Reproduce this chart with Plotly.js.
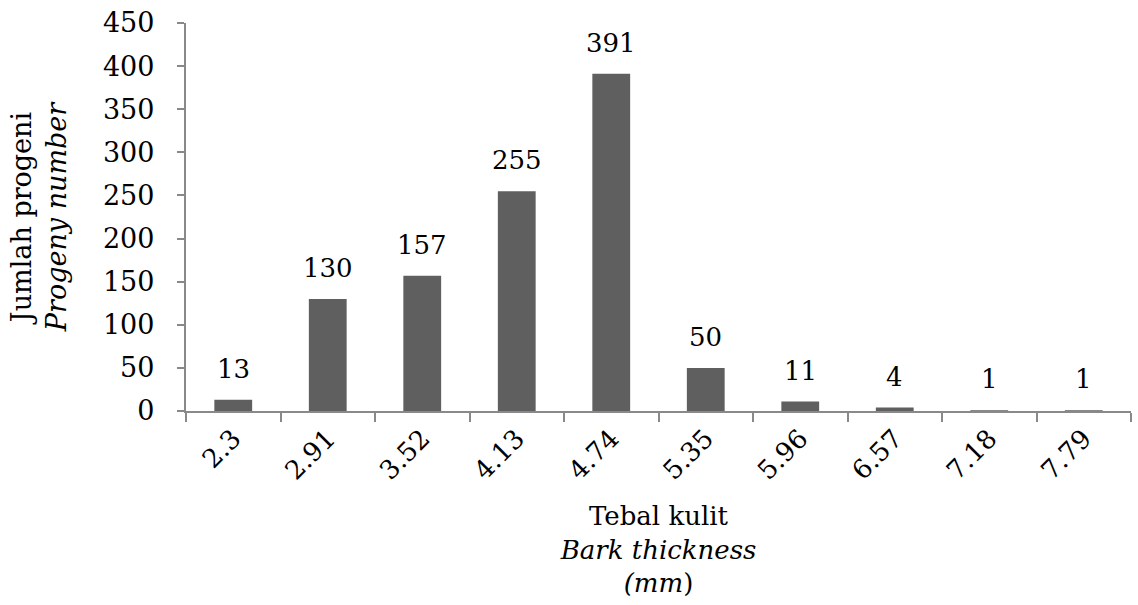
<!DOCTYPE html>
<html>
<head>
<meta charset="utf-8">
<script src="https://cdn.plot.ly/plotly-3.0.1.min.js"></script>
<style>html,body{margin:0;padding:0;background:#fff;}#chart{width:1138px;height:605px;}</style>
</head>
<body>
<div id="chart"></div>
<script>
const categories = ["2.3", "2.91", "3.52", "4.13", "4.74", "5.35", "5.96", "6.57", "7.18", "7.79"];
const counts = [13, 130, 157, 255, 391, 50, 11, 4, 1, 1];
const yTicks = [0, 50, 100, 150, 200, 250, 300, 350, 400, 450];

const fontFam = "DejaVu Serif, Liberation Serif, serif";

const trace = {
  type: "bar",
  x: categories,
  y: counts,
  marker: {color: "#5f5f5f"},
  hoverinfo: "none"
};

const annotations = categories.map((c, i) => ({
  x: i,
  y: counts[i],
  xref: "x",
  yref: "y",
  text: String(counts[i]),
  showarrow: false,
  yanchor: "bottom",
  yshift: 14,
  font: {family: fontFam, size: 26, color: "#000"}
}));

const layout = {
  width: 1138,
  height: 605,
  margin: {l: 186, r: 7, t: 23, b: 194},
  paper_bgcolor: "#fff",
  plot_bgcolor: "#fff",
  showlegend: false,
  bargap: 0.6,
  font: {family: fontFam, color: "#000", size: 26},
  annotations: annotations,
  xaxis: {
    type: "category",
    tickson: "boundaries",
    ticks: "outside",
    ticklen: 9,
    tickwidth: 2,
    tickcolor: "#898989",
    showline: true,
    linecolor: "#898989",
    linewidth: 2,
    showgrid: false,
    zeroline: false,
    tickangle: -45,
    tickfont: {family: fontFam, size: 26, color: "#000"},
    title: {text: "Tebal kulit<br><i>Bark thickness</i><br><i>(mm</i>)", font: {family: fontFam, size: 26, color: "#000"}, standoff: 22}
  },
  yaxis: {
    range: [0, 450],
    tickvals: yTicks,
    ticktext: yTicks.map(v => v + "\u00a0\u00a0"),
    ticks: "outside",
    ticklen: 7,
    tickwidth: 2,
    tickcolor: "#898989",
    showline: true,
    linecolor: "#898989",
    linewidth: 2,
    showgrid: false,
    zeroline: false,
    tickfont: {family: fontFam, size: 27, color: "#000"},
    title: {text: "Jumlah progeni<br><i>Progeny number</i>", font: {family: fontFam, size: 27, color: "#000"}, standoff: 28}
  }
};

Plotly.newPlot("chart", [trace], layout, {staticPlot: true, displayModeBar: false});
</script>
</body>
</html>
